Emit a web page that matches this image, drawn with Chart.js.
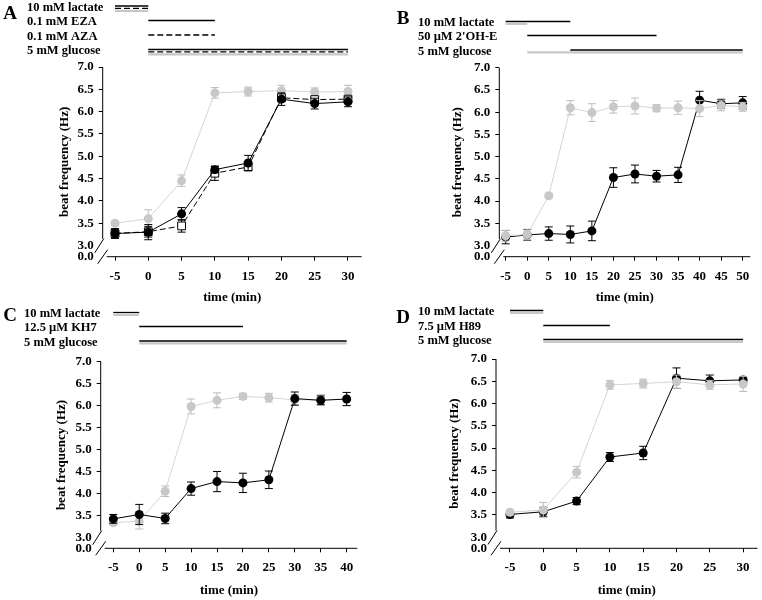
<!DOCTYPE html>
<html>
<head>
<meta charset="utf-8">
<script src="https://cdn.jsdelivr.net/npm/chart.js@4.4.0/dist/chart.umd.min.js"></script>
<style>
    body { margin: 0; background: #fff; }
    #wrap { position: relative; width: 762px; height: 600px; overflow: hidden; }
    canvas { position: absolute; }
</style>
</head>
<body>
<div id="wrap">
    <canvas id="chartA" width="381" height="310" style="left:0;top:0"></canvas>
    <canvas id="chartB" width="381" height="310" style="left:381px;top:0"></canvas>
    <canvas id="chartC" width="381" height="300" style="left:0;top:300px"></canvas>
    <canvas id="chartD" width="381" height="300" style="left:381px;top:300px"></canvas>
</div>
<script>
// y axis is broken: the bottom tick stands for 0.0
const yTicks = [2.75, 3.0, 3.5, 4.0, 4.5, 5.0, 5.5, 6.0, 6.5, 7.0];
const yTickLabels = ['0.0', '3.0', '3.5', '4.0', '4.5', '5.0', '5.5', '6.0', '6.5', '7.0'];

// panel A
const timesA = [-5, 0, 5, 10, 15, 20, 25, 30];
const ctrlA = [3.50, 3.60, 4.45, 6.42, 6.45, 6.47, 6.44, 6.45];
const ctrlErrA = [0.05, 0.2, 0.13, 0.12, 0.1, 0.12, 0.09, 0.14];
const ezaA = [3.27, 3.30, 3.71, 4.70, 4.85, 6.28, 6.18, 6.22];
const ezaErrA = [0.11, 0.17, 0.14, 0.07, 0.17, 0.14, 0.12, 0.11];
const azaA = [3.27, 3.31, 3.44, 4.62, 4.76, 6.31, 6.27, 6.28];
const azaErrA = [0.1, 0.12, 0.14, 0.16, 0.08, 0.08, 0.06, 0.05];

// panel B
const timesB = [-5, 0, 5, 10, 15, 20, 25, 30, 35, 40, 45, 50];
const ctrlB = [3.22, 3.25, 4.12, 6.10, 5.99, 6.12, 6.14, 6.09, 6.10, 6.08, 6.15, 6.12];
const ctrlErrB = [0.12, 0.12, 0.05, 0.16, 0.2, 0.14, 0.18, 0.08, 0.15, 0.18, 0.12, 0.1];
const ohB = [3.19, 3.24, 3.27, 3.25, 3.33, 4.53, 4.61, 4.56, 4.59, 6.27, 6.19, 6.21];
const ohErrB = [0.15, 0.12, 0.15, 0.19, 0.22, 0.22, 0.2, 0.13, 0.17, 0.2, 0.1, 0.14];

// panel C
const timesC = [-5, 0, 5, 10, 15, 20, 25, 30, 35, 40];
const ctrlC = [3.33, 3.37, 4.05, 5.98, 6.12, 6.21, 6.18, 6.13, 6.13, 6.15];
const ctrlErrC = [0.06, 0.18, 0.12, 0.17, 0.17, 0.07, 0.1, 0.12, 0.12, 0.15];
const kh7C = [3.42, 3.52, 3.43, 4.11, 4.27, 4.24, 4.31, 6.16, 6.12, 6.15];
const kh7ErrC = [0.1, 0.23, 0.12, 0.15, 0.23, 0.22, 0.2, 0.15, 0.1, 0.15];

// panel D
const timesD = [-5, 0, 5, 10, 15, 20, 25, 30];
const ctrlD = [3.56, 3.61, 4.46, 6.42, 6.45, 6.49, 6.42, 6.44];
const ctrlErrD = [0.06, 0.17, 0.13, 0.1, 0.1, 0.15, 0.1, 0.17];
const h89D = [3.51, 3.57, 3.81, 4.80, 4.89, 6.57, 6.51, 6.53];
const h89ErrD = [0.08, 0.1, 0.08, 0.1, 0.15, 0.23, 0.13, 0.07];

// treatment bars above each panel: [from, to, style] in minutes
const treatA = [
    { label: '10 mM lactate', bars: [[-5, 0, 'solid'], [-5, 0, 'dash'], [-5, 0, 'gray']] },
    { label: '0.1 mM EZA', bars: [[0, 10, 'solid']] },
    { label: '0.1 mM AZA', bars: [[0, 10, 'dash']] },
    { label: '5 mM glucose', bars: [[0, 30, 'solid'], [0, 30, 'dash'], [0, 30, 'gray']] }
];
const treatB = [
    { label: '10 mM lactate', bars: [[-5, 10, 'solid'], [-5, 0, 'gray']] },
    { label: '50 \u00B5M 2\'OH-E', bars: [[0, 30, 'solid']] },
    { label: '5 mM glucose', bars: [[10, 50, 'solid'], [0, 50, 'gray']] }
];
const treatC = [
    { label: '10 mM lactate', bars: [[-5, 0, 'solid'], [-5, 0, 'gray']] },
    { label: '12.5 \u00B5M KH7', bars: [[0, 20, 'solid']] },
    { label: '5 mM glucose', bars: [[0, 40, 'solid'], [0, 40, 'gray']] }
];
const treatD = [
    { label: '10 mM lactate', bars: [[-5, 0, 'solid'], [-5, 0, 'gray']] },
    { label: '7.5 \u00B5M H89', bars: [[0, 10, 'solid']] },
    { label: '5 mM glucose', bars: [[0, 30, 'solid'], [0, 30, 'gray']] }
];

const FONT = '"Liberation Serif", "Times New Roman", serif';
const GRAY = '#c8c8c8';
const GRAY_LINE = '#d4d4d4';
const tickFont = { family: FONT, size: 13, weight: 'bold' };

const panelDecor = {
    id: 'panelDecor',
    beforeDatasetDraw(chart, args) {
        const ds = chart.data.datasets[args.index];
        if (!ds.errors) return;
        const { ctx, scales: { x, y } } = chart;
        ctx.save();
        ctx.setLineDash([]);
        ctx.strokeStyle = ds.errorColor;
        ctx.lineWidth = 1;
        ds.data.forEach((pt, i) => {
            const px = x.getPixelForValue(pt.x);
            const top = y.getPixelForValue(pt.y + ds.errors[i]);
            const bot = y.getPixelForValue(pt.y - ds.errors[i]);
            ctx.beginPath();
            ctx.moveTo(px, top); ctx.lineTo(px, bot);
            ctx.moveTo(px - 4, top); ctx.lineTo(px + 4, top);
            ctx.moveTo(px - 4, bot); ctx.lineTo(px + 4, bot);
            ctx.stroke();
        });
        ctx.restore();
    },
    afterDraw(chart, args, o) {
        const { ctx, chartArea: a, scales: { x, y } } = chart;
        const seg = (x1, y1, x2, y2) => { ctx.beginPath(); ctx.moveTo(x1, y1); ctx.lineTo(x2, y2); ctx.stroke(); };
        ctx.save();
        ctx.strokeStyle = '#000';
        ctx.lineWidth = 1;
        const yEnd = y.getPixelForValue(3.15);
        seg(a.left, a.top, a.left, yEnd);
        seg(a.left + 4, a.bottom, a.right, a.bottom);
        // axis break marks
        seg(a.left + 1, yEnd, a.left - 8, yEnd + 14);
        seg(a.left + 5, a.bottom - 7, a.left - 5, a.bottom + 7);

        ctx.fillStyle = '#000';
        ctx.textBaseline = 'middle';
        ctx.textAlign = 'center';
        ctx.font = 'bold 19px ' + FONT;
        ctx.fillText(o.letter, o.letterX, o.letterY);

        ctx.textAlign = 'left';
        ctx.font = 'bold 12.5px ' + FONT;
        o.rows.forEach((row, i) => {
            const rowY = o.rowY[i];
            ctx.fillText(row.label, o.textX, rowY);
            row.bars.forEach(([from, to, style], j) => {
                const by = rowY - 1.5 + j * 2.4;
                ctx.strokeStyle = style === 'gray' ? GRAY : '#000';
                ctx.lineWidth = style === 'gray' ? 2.2 : 1.3;
                ctx.setLineDash(style === 'dash' ? [6, 3] : []);
                seg(x.getPixelForValue(from), by, x.getPixelForValue(to), by);
            });
        });
        ctx.restore();
    }
};

function series(times, values, errors, color, extra) {
    return Object.assign({
        data: times.map((t, i) => ({ x: t, y: values[i] })),
        errors: errors,
        errorColor: color === '#000' ? '#000' : '#bdbdbd',
        borderColor: color === '#000' ? '#000' : GRAY_LINE,
        backgroundColor: color,
        pointBackgroundColor: color,
        pointBorderColor: color,
        pointBorderWidth: 0,
        pointRadius: 4.5,
        borderWidth: 1,
        tension: 0
    }, extra || {});
}

function panelOptions(p) {
    return {
        responsive: false,
        animation: false,
        layout: { padding: p.pad },
        plugins: {
            legend: { display: false },
            tooltip: { enabled: false },
            panelDecor: p.decor
        },
        scales: {
            x: {
                type: 'linear',
                min: p.xMin,
                max: p.xMax,
                afterBuildTicks: s => { s.ticks = p.times.map(v => ({ value: v })); },
                afterFit: s => { s.height = p.xAxisHeight; s.paddingLeft = 0; s.paddingRight = 0; },
                grid: { drawOnChartArea: false, tickLength: 4, color: '#000' },
                border: { display: false },
                ticks: { font: tickFont, color: '#000', padding: 8, maxRotation: 0, autoSkip: false },
                title: { display: true, text: 'time (min)', font: tickFont, color: '#000', padding: { top: 0, bottom: p.titleBottom } }
            },
            y: {
                min: 2.75,
                max: 7.0,
                afterBuildTicks: s => { s.ticks = yTicks.map(v => ({ value: v })); },
                afterFit: s => { s.width = p.yAxisWidth; s.paddingTop = 0; s.paddingBottom = 0; },
                grid: {
                    drawOnChartArea: false,
                    tickLength: 4,
                    color: ctx => (ctx.tick && ctx.tick.value < 3.2) ? 'rgba(0,0,0,0)' : '#000'
                },
                border: { display: false },
                ticks: {
                    font: tickFont, color: '#000', padding: 5, autoSkip: false,
                    callback: (value, index) => yTickLabels[index]
                },
                title: { display: true, text: 'beat frequency (Hz)', font: tickFont, color: '#000', padding: 0 }
            }
        }
    };
}

function renderPanelA() {
    new Chart(document.getElementById('chartA'), {
        type: 'line',
        data: {
            datasets: [
                series(timesA, ezaA, ezaErrA, '#000'),
                series(timesA, azaA, azaErrA, '#000', {
                    borderDash: [6, 3], pointStyle: 'rect', pointRadius: 5.5,
                    pointBackgroundColor: '#fff', pointBorderWidth: 1
                }),
                series(timesA, ctrlA, ctrlErrA, GRAY)
            ]
        },
        options: panelOptions({
            times: timesA, xMin: -6.85, xMax: 32.06,
            pad: { left: 57, top: 67, right: 19.3, bottom: 0 },
            yAxisWidth: 45.7, xAxisHeight: 53.3, titleBottom: 5,
            decor: { letter: 'A', letterX: 10, letterY: 14, textX: 27, rowY: [7.5, 22, 36.5, 51], rows: treatA }
        }),
        plugins: [panelDecor]
    });
}

function renderPanelB() {
    new Chart(document.getElementById('chartB'), {
        type: 'line',
        data: {
            datasets: [
                series(timesB, ctrlB, ctrlErrB, GRAY),
                series(timesB, ohB, ohErrB, '#000')
            ]
        },
        options: panelOptions({
            times: timesB, xMin: -6.48, xMax: 51.76,
            pad: { left: 69, top: 67.7, right: 11.7, bottom: 0 },
            yAxisWidth: 49.3, xAxisHeight: 53.3, titleBottom: 5,
            decor: { letter: 'B', letterX: 22, letterY: 19, textX: 37, rowY: [23, 37, 51.5], rows: treatB }
        }),
        plugins: [panelDecor]
    });
}

function renderPanelC() {
    new Chart(document.getElementById('chartC'), {
        type: 'line',
        data: {
            datasets: [
                series(timesC, kh7C, kh7ErrC, '#000'),
                series(timesC, ctrlC, ctrlErrC, GRAY)
            ]
        },
        options: panelOptions({
            times: timesC, xMin: -7.43, xMax: 42.05,
            pad: { left: 53.5, top: 61.7, right: 23.7, bottom: 0 },
            yAxisWidth: 47.2, xAxisHeight: 51.7, titleBottom: 2,
            decor: { letter: 'C', letterX: 10, letterY: 16, textX: 24, rowY: [14, 28, 42.5], rows: treatC }
        }),
        plugins: [panelDecor]
    });
}

function renderPanelD() {
    new Chart(document.getElementById('chartD'), {
        type: 'line',
        data: {
            datasets: [
                series(timesD, ctrlD, ctrlErrD, GRAY),
                series(timesD, h89D, h89ErrD, '#000')
            ]
        },
        options: panelOptions({
            times: timesD, xMin: -7.1, xMax: 32.16,
            pad: { left: 66, top: 59, right: 4.3, bottom: 0 },
            yAxisWidth: 49, xAxisHeight: 51.7, titleBottom: 2,
            decor: { letter: 'D', letterX: 22, letterY: 18, textX: 37, rowY: [12, 27, 41], rows: treatD }
        }),
        plugins: [panelDecor]
    });
}

document.addEventListener('DOMContentLoaded', () => {
    renderPanelA();
    renderPanelB();
    renderPanelC();
    renderPanelD();
});
</script>
</body>
</html>
